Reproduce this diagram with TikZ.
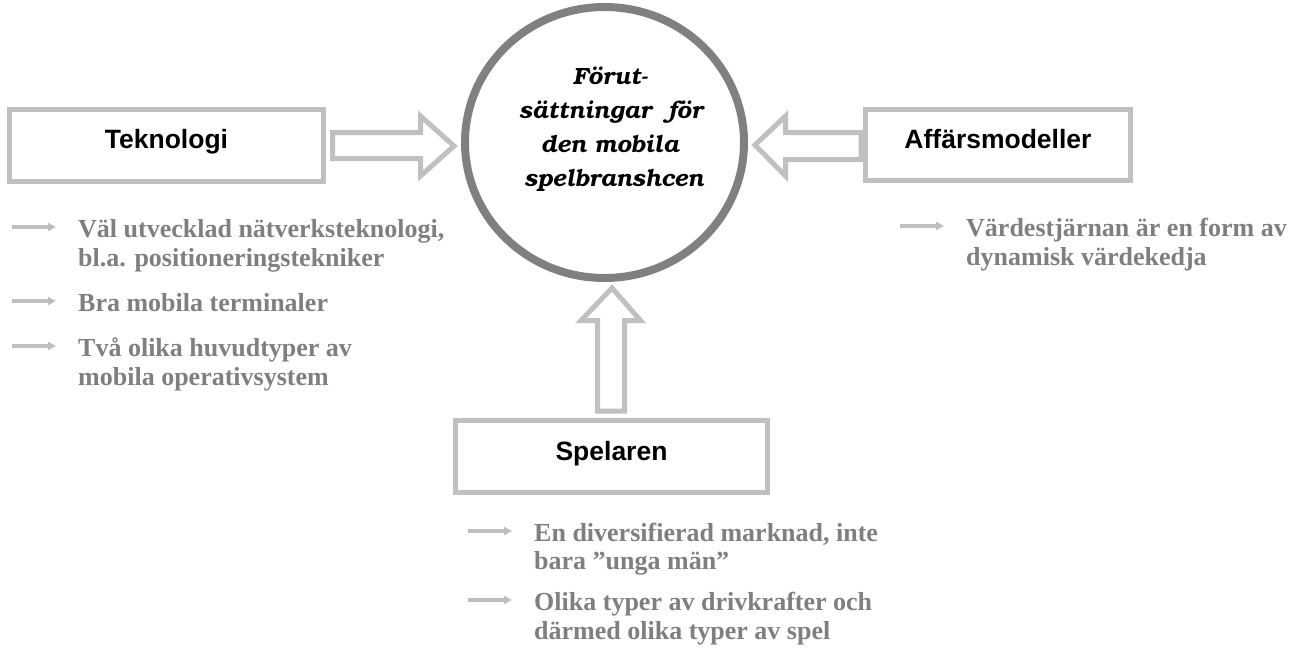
\documentclass[tikz,border=0pt]{standalone}
\usepackage{fontspec}
\setmainfont{Liberation Serif}
\newfontfamily\boxfont{Liberation Sans}
\newfontfamily\hubfont{texgyrebonum-bolditalic.otf}
\usetikzlibrary{shapes.geometric, arrows.meta}

\definecolor{boxgray}{HTML}{C0C0C0}
\definecolor{ringgray}{HTML}{808080}
\definecolor{itemgray}{HTML}{7F7F7F}
\definecolor{tipgray}{HTML}{BFBFBF}

\tikzset{
  factorbox/.style={draw=boxgray, line width=5pt, fill=white, inner sep=0pt},
  boxlabel/.style={font=\boxfont\bfseries\fontsize{26.5}{30}\selectfont, text=black,
    inner sep=0pt, anchor=base},
  hub/.style={ellipse, draw=ringgray, line width=8pt, inner sep=0pt,
    minimum width=279pt, minimum height=271pt},
  hubline/.style={font=\hubfont\fontsize{23.5}{34}\selectfont,
    inner sep=0pt, anchor=base},
  blockarrow/.style={draw=boxgray, line width=5pt, fill=white, line join=miter},
  item/.style={font=\bfseries\fontsize{26}{30}\selectfont, text=itemgray,
    anchor=base west, inner sep=0pt},
  bullet/.style={draw=tipgray, line width=3.2pt,
    -{Triangle[length=8pt, width=8pt]}},
}

\begin{document}
\begin{tikzpicture}[x=1pt, y=-1pt]
\useasboundingbox (0,0) rectangle (1296,654);

% central ring and its caption
\node[hub] (hub) at (604.5,142.5) {};
\node[hubline] (h1) at (610,84) {Förut-};
\node[hubline] (h2) at (611,118) {sättningar~ för};
\node[hubline] (h3) at (610,152) {den mobila};
\node[hubline] (h4) at (614,186) {spelbranshcen};

% the three factor boxes
\node[factorbox, minimum width=314pt, minimum height=72pt] (tek) at (166.5,145.5) {};
\node[boxlabel] (teklab) at ([yshift=-2.5pt]tek.center) {Teknologi};

\node[factorbox, minimum width=265pt, minimum height=71pt] (aff) at (998,145) {};
\node[boxlabel] (afflab) at ([yshift=-3pt]aff.center) {Affärsmodeller};

\node[factorbox, minimum width=312pt, minimum height=72pt] (spel) at (611.5,456.5) {};
\node[boxlabel] (spellab) at ([yshift=-3.5pt]spel.center) {Spelaren};

% hollow block arrows into the ring
\draw[blockarrow] (332.5,132.5) -- (420.5,132.5) -- (420.5,116) -- (454,146)
  -- (420.5,176) -- (420.5,158.5) -- (332.5,158.5) -- cycle;
\draw[blockarrow] (755,145) -- (785.5,116) -- (785.5,132.5) -- (861,132.5)
  -- (861,159.5) -- (785.5,159.5) -- (785.5,176) -- cycle;
\draw[blockarrow] (612,288) -- (640.5,320.5) -- (624.5,320.5) -- (624.5,411)
  -- (597.5,411) -- (597.5,320.5) -- (581,320.5) -- cycle;

% Teknologi items
\node[item] (t1a) at (78,237) {Väl utvecklad nätverksteknologi,};
\node[item] (t1b) at (78,266) {bl.a. positioneringstekniker};
\node[item] (t2a) at (78,311) {Bra mobila terminaler};
\node[item] (t3a) at (78,356) {Två olika huvudtyper av};
\node[item] (t3b) at (78,385) {mobila operativsystem};

% Affärsmodeller items
\node[item] (a1a) at (966,236) {Värdestjärnan är en form av};
\node[item] (a1b) at (966,265) {dynamisk värdekedja};

% Spelaren items
\node[item] (s1a) at (534,541) {En diversifierad marknad, inte};
\node[item] (s1b) at (534,569) {bara ”unga män”};
\node[item] (s2a) at (534,610) {Olika typer av drivkrafter och};
\node[item] (s2b) at (534,639) {därmed olika typer av spel};

% small bullet arrows
\foreach \n in {t1a,t2a,t3a,a1a,s1a,s2a}
  \draw[bullet] ([shift={(-66pt,10pt)}]\n.base west) -- ([shift={(-22pt,10pt)}]\n.base west);
\end{tikzpicture}
\end{document}
